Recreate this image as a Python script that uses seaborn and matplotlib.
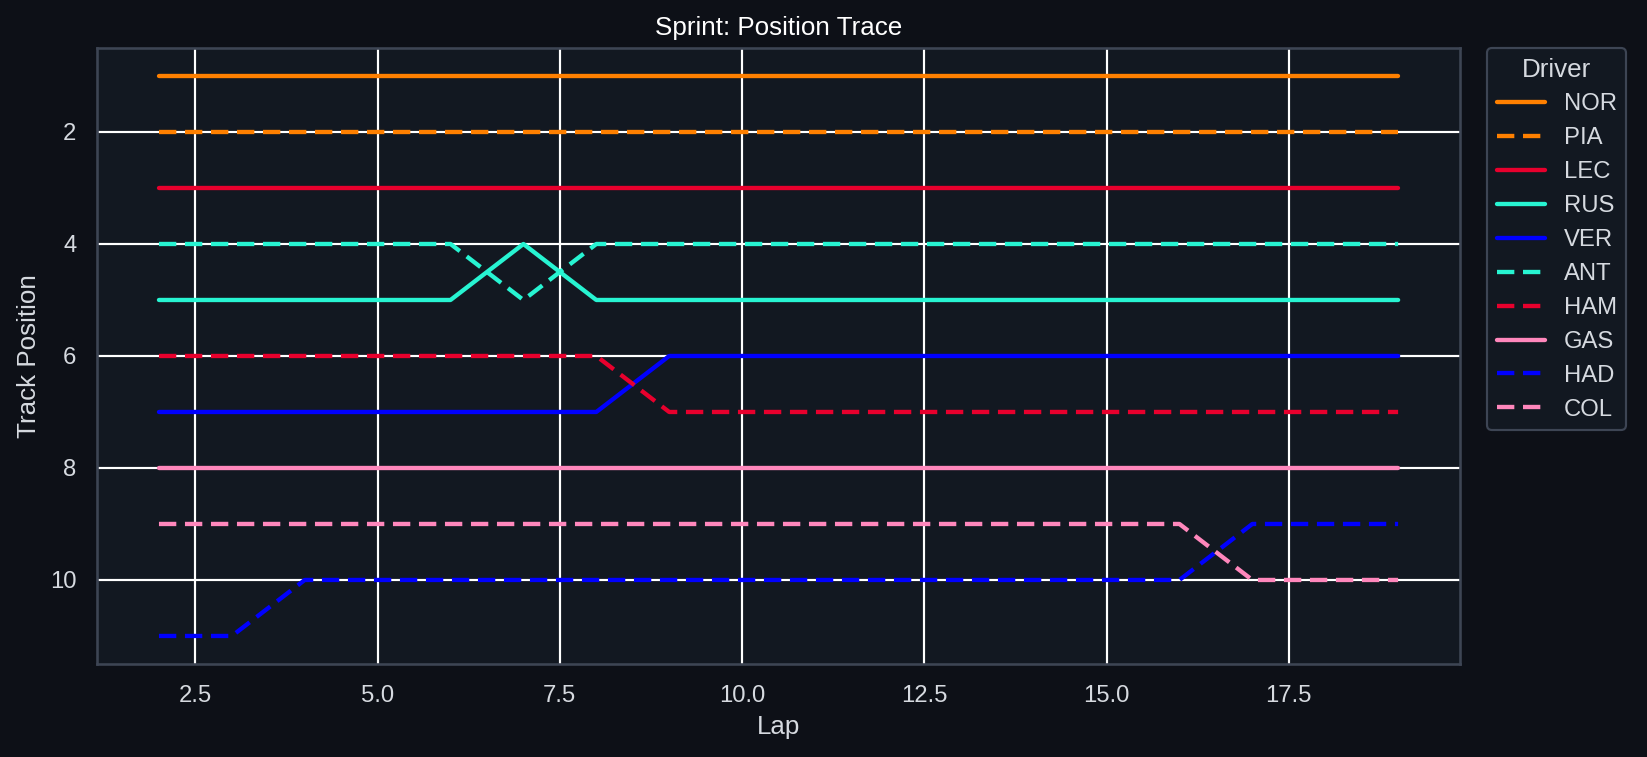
import matplotlib
matplotlib.use("Agg")
import matplotlib.pyplot as plt
import seaborn as sns
import pandas as pd

laps = list(range(2, 20))
drivers = ["NOR", "PIA", "LEC", "RUS", "VER", "ANT", "HAM", "GAS", "HAD", "COL"]
pos_NOR = [1] * 18
pos_PIA = [2] * 18
pos_LEC = [3] * 18
pos_RUS = [5, 5, 5, 5, 5, 4, 5, 5, 5, 5, 5, 5, 5, 5, 5, 5, 5, 5]
pos_VER = [7, 7, 7, 7, 7, 7, 7, 6, 6, 6, 6, 6, 6, 6, 6, 6, 6, 6]
pos_ANT = [4, 4, 4, 4, 4, 5, 4, 4, 4, 4, 4, 4, 4, 4, 4, 4, 4, 4]
pos_HAM = [6, 6, 6, 6, 6, 6, 6, 7, 7, 7, 7, 7, 7, 7, 7, 7, 7, 7]
pos_GAS = [8] * 18
pos_HAD = [11, 11, 10, 10, 10, 10, 10, 10, 10, 10, 10, 10, 10, 10, 10, 9, 9, 9]
pos_COL = [9, 9, 9, 9, 9, 9, 9, 9, 9, 9, 9, 9, 9, 9, 9, 10, 10, 10]
positions = [pos_NOR, pos_PIA, pos_LEC, pos_RUS, pos_VER, pos_ANT, pos_HAM, pos_GAS, pos_HAD, pos_COL]
colors = ["#FF8000", "#FF8000", "#E8002D", "#27F4D2", "#0000FF",
          "#27F4D2", "#E8002D", "#FF87BC", "#0000FF", "#FF87BC"]
solid = ["NOR", "LEC", "RUS", "VER", "GAS"]

rows = []
for d, p in zip(drivers, positions):
    for lap, v in zip(laps, p):
        rows.append({"Lap": lap, "Position": v, "Driver": d})
df = pd.DataFrame(rows)

fig_bg = "#0d1017"
ax_bg = "#121821"
spine_c = "#3d4554"
text_c = "#d6dae0"

sns.set_theme(style="darkgrid", rc={
    "figure.facecolor": fig_bg,
    "axes.facecolor": ax_bg,
    "axes.edgecolor": spine_c,
    "axes.linewidth": 1.2,
    "grid.color": "white",
    "grid.linewidth": 1.0,
    "text.color": text_c,
    "axes.labelcolor": text_c,
    "xtick.color": text_c,
    "ytick.color": text_c,
})
plt.rcParams["font.family"] = ["Liberation Sans", "DejaVu Sans"]

DPI = 156
fig = plt.figure(figsize=(1647 / DPI, 757 / DPI), dpi=DPI)
ax = fig.add_axes([0.0589, 0.1229, 0.8276, 0.8137])

palette = dict(zip(drivers, colors))
dashes = {d: ("" if d in solid else (4, 2)) for d in drivers}
sns.lineplot(data=df, x="Lap", y="Position", hue="Driver", style="Driver",
             palette=palette, dashes=dashes, hue_order=drivers, style_order=drivers,
             linewidth=2, ax=ax)

ax.set_yticks([2, 4, 6, 8, 10])
ax.set_ylim(11.5, 0.5)
ax.set_xlabel("Lap", fontsize=12)
ax.set_ylabel("Track Position", fontsize=12)
ax.set_title("Sprint: Position Trace", color="white", fontsize=12)
ax.tick_params(labelsize=11)
for s in ax.spines.values():
    s.set_visible(True)
    s.set_color(spine_c)

leg = ax.legend(title="Driver", loc="upper left", bbox_to_anchor=(1.02, 1.0),
                borderaxespad=0.0, fontsize=11, title_fontsize=12,
                facecolor=ax_bg, edgecolor=spine_c, framealpha=1.0)
for t in leg.get_texts():
    t.set_color(text_c)
leg.get_title().set_color(text_c)

fig.savefig("out.png", dpi=DPI, facecolor=fig_bg)
